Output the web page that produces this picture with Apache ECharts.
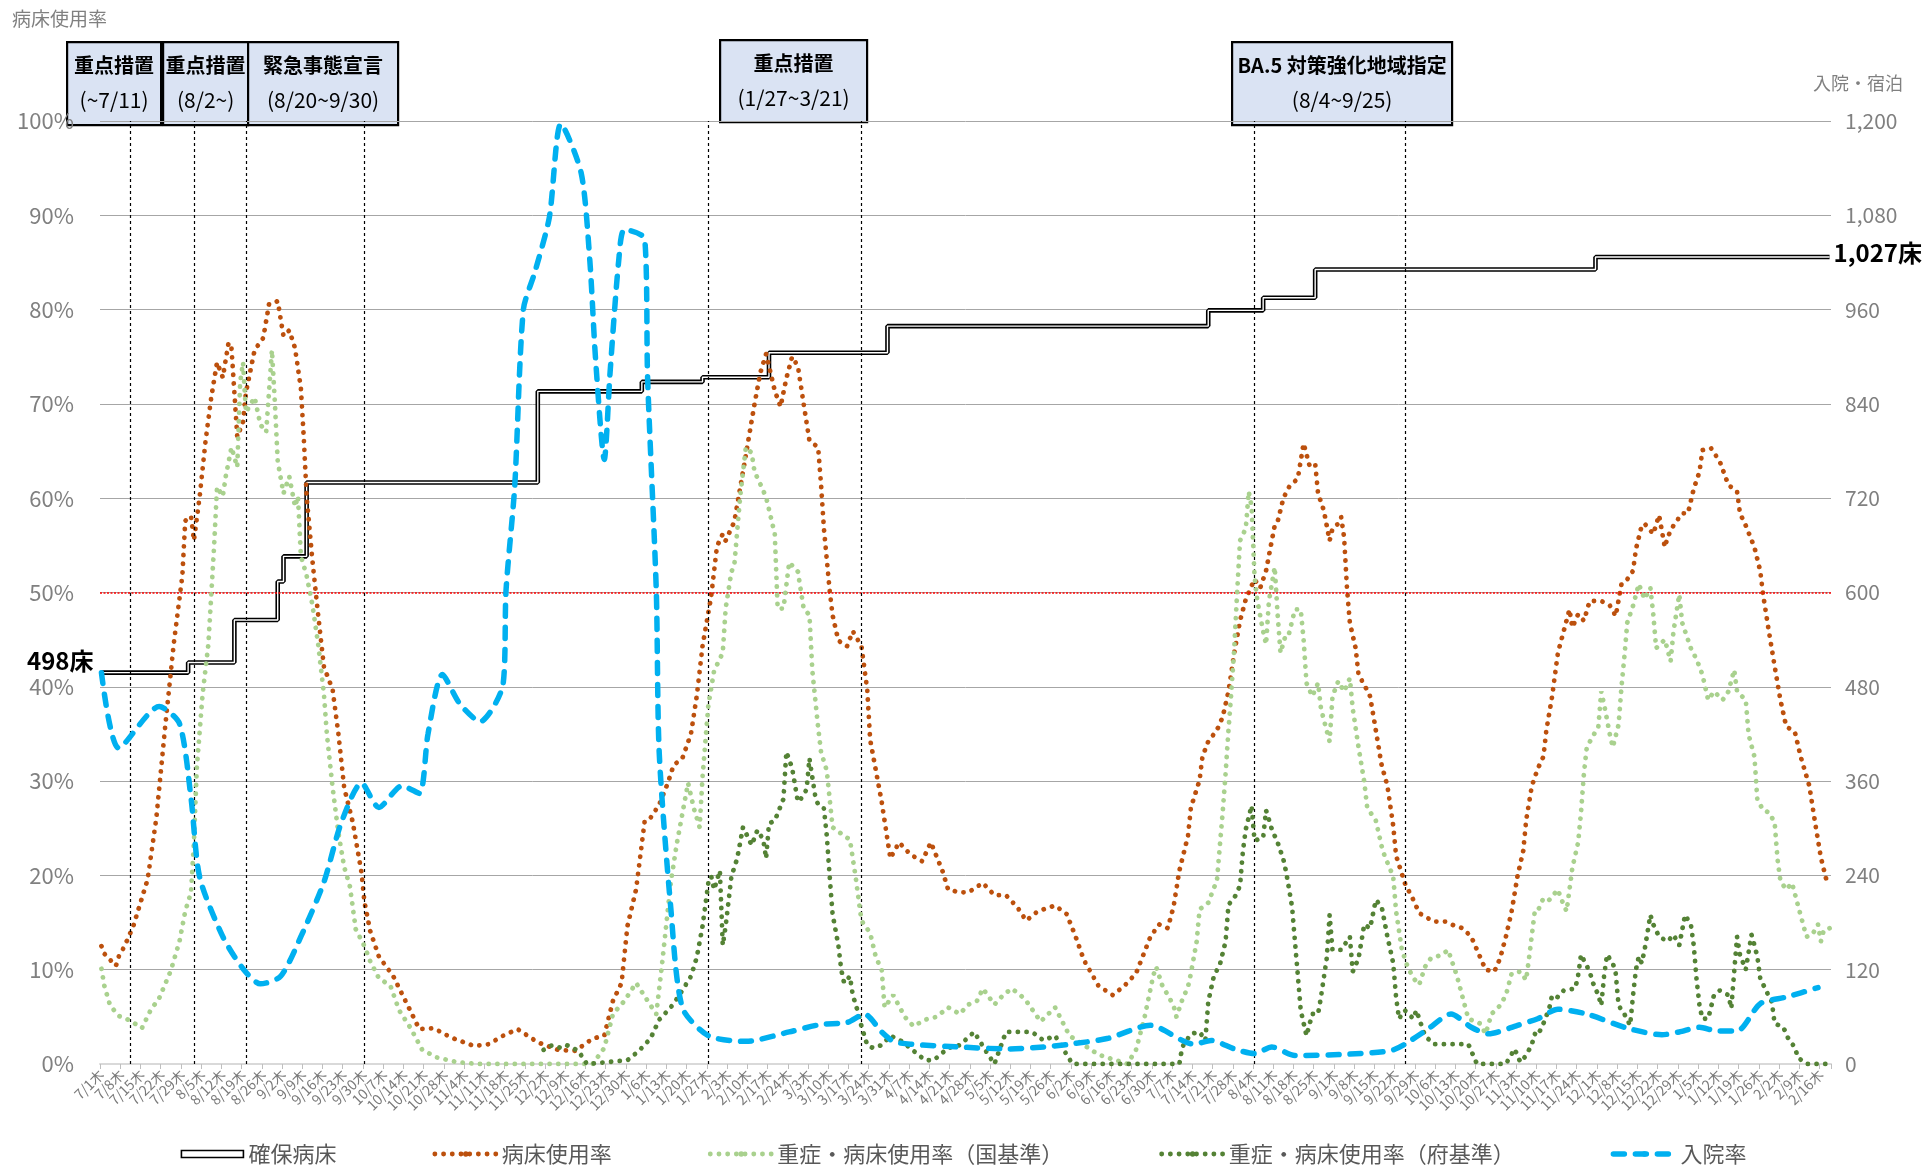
<!DOCTYPE html>
<html>
<head>
<meta charset="utf-8">
<script src="https://cdn.jsdelivr.net/npm/echarts/dist/echarts.min.js"></script>
<style>
  html, body { margin: 0; padding: 0; background: #fff; }
  #chart { width: 1927px; height: 1168px; }
</style>
</head>
<body>
<div id="chart"></div>
<script>
// ---- Daily category axis: 2021-07-01 (木) .. 2023-02-19 ----
const START_DATE = '2021-07-01';
const DAY_COUNT = 599;
const WEEKDAYS = '日月火水木金土';
const DAY_MS = 86400000;
const startMs = Date.parse(START_DATE + 'T00:00:00Z');
const categories = [];
for (let i = 0; i < DAY_COUNT; i++) {
  const d = new Date(startMs + i * DAY_MS);
  categories.push((d.getUTCMonth() + 1) + '/' + d.getUTCDate() + WEEKDAYS[d.getUTCDay()]);
}
const dayIndex = (iso) => Math.round((Date.parse(iso + 'T00:00:00Z') - startMs) / DAY_MS);

// ---- Axis ticks ----
const rateTicks = { min: 0, max: 100, interval: 10 };      // 病床使用率 (%)
const bedTicks = { min: 0, max: 1200, interval: 120 };     // 入院・宿泊 (床)

// ---- Series: [day index, value] ----
// 確保病床 (床, right axis)
const securedBeds = [[0,498],[30,511],[46,565],[61,614],[63,646],[71,740],[151,856],[187,868],[208,874],
  [231,905],[272,939],[383,959],[402,975],[420,1011],[517,1027],[598,1027]];

// 病床使用率 (%)
const bedUsage = [[0,12.5],[1,11.7],[5,10.4],[6,11.4],[8,12.5],[11,14.6],[16,19.6],[19,26.1],[22,35.6],[25,44.5],
  [28,51.8],[29,57.6],[31,58.1],[32,55.5],[34,60.2],[36,66],[38,70.7],[40,74.4],[42,72.8],[44,76.5],[45,75.9],
  [47,66.5],[49,68.1],[50,71.2],[53,75.7],[56,77],[58,80.6],[61,80.9],[63,77.2],[65,77.8],[67,75.9],[69,71.7],
  [70,66.5],[71,60.2],[73,53.4],[75,47.6],[77,42.1],[80,39.7],[82,35],[84,29.3],[87,25.6],[90,20.3],[91,17.2],
  [93,14.1],[96,11.4],[101,9.3],[106,6.2],[110,3.7],[115,3.8],[121,2.8],[129,1.9],[134,2.1],[139,3],[144,3.7],
  [151,2.3],[158,1.5],[164,1.4],[170,2.7],[174,3],[177,6.7],[180,8.6],[182,14.6],[185,18.5],[188,25.8],[190,26.1],
  [193,27.5],[196,29.8],[198,31.7],[201,32.4],[204,35],[206,39],[208,44.3],[211,49.6],[213,54.9],[215,56.2],
  [216,55.5],[219,57.5],[222,62.8],[224,66.4],[226,70],[228,73.3],[230,75.3],[233,71.4],[235,69.7],[237,72.7],
  [239,75],[241,74],[243,70],[245,66.1],[248,65.4],[249,61.5],[250,56.8],[252,50.2],[253,47.6],[255,44.9],
  [258,44.3],[260,45.9],[263,44.3],[265,39.7],[266,34.4],[268,31.1],[270,27.8],[272,23.8],[273,21.8],[276,23.5],
  [280,22.2],[284,21.5],[287,23.5],[291,20.5],[293,18.5],[297,18.2],[300,18.2],[305,19.2],[309,17.9],[313,17.9],
  [317,16.6],[320,15.2],[324,16.2],[330,16.8],[334,15.9],[337,13.6],[340,11],[345,8.3],[350,7.3],[354,8.3],
  [358,9.6],[363,13.5],[366,14.8],[369,14.4],[371,16.7],[373,20.5],[376,24.2],[377,27.2],[380,30.1],[381,32.6],
  [383,34.2],[386,35.4],[388,36.8],[390,39.5],[392,43.6],[394,47],[396,49.3],[399,51.4],[401,50.5],[403,52.3],
  [405,55.5],[406,57.1],[407,57.5],[409,60],[411,61.2],[414,62.1],[416,65.8],[418,63.5],[420,63.7],[421,60.5],
  [423,58.7],[425,55.5],[426,56.8],[428,57.3],[429,58],[430,55.9],[431,50.5],[432,46.8],[434,44.1],[435,41.3],
  [437,40.2],[439,39],[440,37.2],[443,31.7],[445,29.5],[447,25.3],[448,22.1],[451,19.2],[454,17.4],[456,16],
  [461,15.1],[465,15.1],[467,14.8],[471,14.4],[474,13.5],[477,11.4],[479,10],[482,9.8],[484,11.2],[486,13.5],
  [488,16.2],[490,19.9],[492,22.6],[493,25.8],[495,29.5],[497,31.3],[499,32.6],[500,35.4],[502,39],[504,43.6],
  [506,45.9],[508,48.2],[509,46.3],[511,47.7],[513,47],[515,49.1],[519,49.1],[522,48.6],[524,47.5],[526,50.9],
  [528,51.4],[530,52.3],[531,54.6],[533,57.1],[534,57.3],[537,56.2],[539,58.2],[541,54.8],[542,55.9],[544,57.1],
  [547,58.4],[549,58.4],[551,61],[553,62.8],[554,65.1],[557,65.3],[560,63.9],[563,61.4],[566,60.7],[567,58.4],
  [569,57.1],[572,54.8],[574,52.3],[575,49.8],[577,45.9],[579,42.2],[581,38.6],[583,35.8],[586,35.2],[588,32.6],
  [591,29.5],[593,25.6],[595,21.9],[597,19.4]];

// 重症・病床使用率（国基準） (%)
const severeNational = [[0,10.1],[1,8.3],[3,6.2],[6,5.1],[10,4.6],[14,3.8],[17,5.7],[20,7],[24,9.9],[27,13],
  [29,16.2],[31,18.2],[32,23.5],[33,31.4],[35,39.2],[37,44.5],[39,55],[40,61.2],[42,60.2],[43,62.3],[45,65.4],
  [47,63.3],[48,72.3],[49,74.4],[50,69.1],[53,70.7],[55,67.8],[57,67],[59,75.7],[60,70.2],[61,63.9],[63,60.5],
  [65,62.3],[67,59.1],[68,60.2],[69,53.9],[71,51.8],[73,48.7],[75,44.5],[77,39.2],[78,35],[80,29.3],[82,24.5],
  [84,20.9],[86,18.8],[88,14.3],[91,12.5],[93,10.9],[96,9.1],[100,8.3],[103,5.7],[107,3.8],[111,1.5],[116,0.7],
  [123,0.2],[130,0],[170,0],[174,1.7],[177,5.3],[181,6.7],[185,8.6],[189,6.7],[192,5.3],[194,10.6],[197,19.2],
  [199,23.2],[201,26.5],[203,29.8],[205,27.1],[207,25.1],[208,30.4],[210,38],[212,41.7],[215,43.6],[216,48.3],
  [218,52.2],[219,52.9],[221,60.1],[223,65.4],[225,64.8],[226,62.8],[228,61.5],[230,60.1],[231,58.8],[233,56.2],
  [234,48.3],[236,48.3],[238,53.2],[241,52.2],[243,48.3],[245,47.6],[246,41.7],[248,35.7],[249,33.1],[251,31.1],
  [253,25.1],[257,24.2],[259,23.8],[261,19.8],[263,15.2],[266,13.9],[268,11.3],[270,10],[271,6],[274,7.3],
  [278,5],[281,4],[285,4.7],[289,5],[293,6],[297,5.3],[300,6.3],[303,6.7],[305,8],[309,6.3],[312,7.3],[315,8],
  [318,7.3],[320,6.7],[325,4.5],[330,6],[335,3],[340,2],[345,1],[350,0.5],[355,0],[358,1.5],[361,5],[364,9.4],
  [365,10.3],[367,8.4],[369,7.3],[371,6.2],[372,5],[374,6.8],[376,8.2],[377,9.6],[379,13],[380,16.4],[383,17.1],
  [385,18.7],[386,19.4],[387,23.1],[388,26.7],[389,30.8],[390,35.4],[391,39.5],[392,44.1],[393,50],[394,55.5],
  [396,56.8],[397,60.7],[398,59.1],[399,51.8],[400,49.1],[402,45.9],[403,44.5],[404,49.1],[406,52.7],[407,47.7],
  [408,43.6],[410,45.7],[411,45.7],[413,48.2],[415,48.2],[416,45],[417,40.4],[419,39],[421,40.4],[422,37.7],
  [423,36.5],[425,34.2],[426,39],[428,40.6],[430,39.5],[432,40.9],[433,37.7],[435,33.6],[437,29.9],[438,27.2],
  [441,25.8],[443,23.1],[444,22.1],[447,19.9],[448,16.2],[450,12.1],[452,10.3],[454,9.1],[456,8.4],[458,10.3],
  [460,11.2],[464,11.6],[466,12.1],[469,9.4],[471,7.1],[473,4.8],[477,4.3],[479,3.2],[481,5.3],[484,6.2],
  [486,7.3],[488,9.6],[491,9.8],[493,8.9],[494,11.2],[496,16.2],[497,16.2],[499,17.6],[501,17.4],[504,18.5],
  [505,17.6],[507,16.2],[508,18.5],[509,20.8],[511,23.5],[512,26.7],[513,30.8],[514,33.6],[516,34.7],[518,35.8],
  [519,39.5],[520,38.1],[522,34.9],[523,33.6],[525,36],[526,40],[527,43.2],[528,46.8],[530,48.6],[532,50.9],
  [534,49.3],[536,50.5],[537,47.7],[538,44.1],[541,45],[543,42.7],[544,45.9],[546,49.8],[547,46.8],[550,44.1],
  [552,42.9],[554,41.3],[556,38.6],[558,39.5],[561,38.6],[563,39.5],[565,41.8],[566,39.5],[569,38.6],[570,34.9],
  [572,32.6],[573,28.1],[575,26.9],[577,26.7],[579,25.6],[580,21.7],[581,19.4],[583,18.5],[585,19.2],[587,16.9],
  [590,13.5],[592,13.7],[594,14.8],[595,13],[596,14.2],[598,14.4]];

// 重症・病床使用率（府基準） (%)
const severePrefecture = [[153,1.5],[156,2],[159,1.7],[161,2],[165,1.4],[168,0],[182,0.4],[186,1.4],[190,2.7],
  [193,4.7],[197,6],[200,7.3],[204,9.3],[206,11.3],[208,14.6],[210,19.2],[211,19.9],[212,18.5],[214,20.5],
  [215,12.6],[216,14.6],[218,19.9],[220,21.8],[222,25.1],[223,24.5],[225,23.2],[227,24.8],[229,23.8],[230,21.8],
  [231,25.5],[233,25.8],[236,28.1],[237,33.1],[239,31.4],[241,27.8],[242,28.1],[244,29.1],[245,32.4],[247,28.4],
  [248,27.5],[250,27.1],[251,24.2],[252,19.9],[253,15.9],[255,12.6],[256,10],[257,8.6],[259,9.3],[260,7.3],
  [262,5.3],[263,4],[265,2],[267,1.7],[270,2],[273,3],[277,2.4],[281,1.4],[285,0.4],[288,0.4],[293,1.7],[297,2],
  [302,3.4],[306,1.4],[309,0],[313,3.4],[318,3.4],[322,3.4],[326,2.5],[330,3],[333,1.5],[336,0],[373,0],
  [374,1.8],[377,3.2],[380,3.4],[382,2.5],[383,6.6],[385,9.4],[387,10.5],[389,13],[390,16.9],[392,17.6],
  [394,18.9],[395,22.6],[396,24.9],[398,27.4],[399,23.7],[402,24],[403,26.9],[405,24.9],[407,23.5],[409,21.7],
  [410,20.3],[412,16.7],[413,13],[414,9.4],[415,5.7],[417,3],[419,5.3],[421,5.3],[422,7.1],[424,11.2],[425,15.8],
  [426,12.1],[429,12.1],[432,13.5],[433,9.8],[435,11.2],[437,14.8],[439,14.4],[441,17.4],[443,16.7],[445,13.5],
  [447,10.7],[448,7.1],[449,4.8],[451,5.7],[454,4.8],[455,5.7],[458,3],[461,2.1],[466,2.1],[473,2.1],[476,0],
  [486,0],[489,1.6],[491,0.2],[493,0.9],[495,2.1],[496,3.2],[497,3],[499,4.3],[501,5.9],[502,7.3],[504,7.1],
  [506,7.8],[510,8],[511,9.4],[512,11.6],[515,9.8],[516,8.7],[518,7.3],[519,6.2],[520,9.4],[521,11.6],[523,10.7],
  [524,9.6],[525,6.2],[527,5.3],[529,4.1],[530,7.3],[531,10],[532,11.4],[533,10.7],[534,12.1],[536,15.8],
  [537,14.8],[539,13.5],[542,13],[544,13.7],[546,12.6],[548,15.8],[550,14.8],[551,12.6],[552,8.9],[553,6.2],
  [554,4.8],[556,4.8],[558,7.3],[560,7.8],[563,7.3],[564,5.9],[565,9.8],[566,13.5],[567,11.6],[569,10],
  [571,13.7],[572,12.6],[573,11.4],[574,9.1],[576,7.8],[578,6.6],[579,4.3],[582,3.9],[584,2.5],[586,1.8],
  [587,0.7],[590,0],[598,0]];

// 入院率 (%)
const admissionRate = [[0,41.5],[6,33.5],[20,37.9],[27,36.1],[31,28.2],[34,19.8],[42,13.5],[49,10.1],[55,8.5],
  [62,9.3],[69,13.5],[77,19.3],[83,25.6],[90,29.8],[96,27.2],[104,29.5],[110,28.7],[113,35],[118,41.3],
  [124,38.2],[131,36.3],[139,40.3],[140,50.2],[143,61.2],[146,80],[150,84],[155,89.8],[159,99.7],[166,94.5],
  [169,85.2],[171,74.7],[174,64.1],[176,73.3],[179,85.2],[181,88.5],[188,87.5],[189,72.7],[192,50.2],[193,33.1],
  [197,16.6],[201,6],[210,3],[223,2.4],[238,3.4],[249,4.2],[258,4.4],[264,5.3],[270,3.4],[274,2.4],[280,2.1],
  [297,1.8],[314,1.6],[326,1.8],[335,2.1],[348,2.7],[363,4.1],[378,2.1],[384,2.5],[392,1.6],[399,1.1],[405,1.8],
  [413,0.9],[432,1.05],[446,1.4],[451,2.1],[459,3.7],[467,5.3],[474,3.9],[480,3.2],[490,4.1],[497,4.8],[504,5.8],
  [514,5.3],[528,3.8],[540,3.1],[546,3.4],[553,3.9],[559,3.5],[566,3.5],[574,6.4],[583,7.1],[594,8.1]];

// ---- Measures (periods) and their boundary dates ----
const measureDates = ['2021-07-11', '2021-08-02', '2021-08-20', '2021-09-30',
                      '2022-01-27', '2022-03-21', '2022-08-04', '2022-09-25'];
const measureBoxes = [
  { title: '重点措置', period: '(~7/11)' },
  { title: '重点措置', period: '(8/2~)' },
  { title: '緊急事態宣言', period: '(8/20~9/30)' },
  { title: '重点措置', period: '(1/27~3/21)' },
  { title: 'BA.5 対策強化地域指定', period: '(8/4~9/25)' }
];
const THRESHOLD = 50;

// ---- Layout & style ----
const FONT = "'Noto Sans CJK JP', 'Noto Sans', sans-serif";
const GRID = { left: 100, right: 96, top: 121, bottom: 104 };
const boxFrames = [
  { x: 66, y: 41, w: 94, h: 83 },
  { x: 162, y: 41, w: 85, h: 83 },
  { x: 247, y: 41, w: 150, h: 83 },
  { x: 719, y: 39, w: 147, h: 82 },
  { x: 1231, y: 41, w: 220, h: 83 }
];
const C_BROWN = '#bc500d', C_LGREEN = '#a9d18e', C_DGREEN = '#548235', C_BLUE = '#00b0f0';
const dots = (color) => ({ color, width: 4.8, type: [0.1, 8.6], cap: 'round' });

const boxGraphics = [];
measureBoxes.forEach((b, i) => {
  const f = boxFrames[i];
  boxGraphics.push({
    type: 'group', left: f.x, top: f.y, z: 100,
    children: [
      { type: 'rect', shape: { x: 0, y: 0, width: f.w, height: f.h },
        style: { fill: '#dae3f3', stroke: '#000', lineWidth: 2.2 } },
      { type: 'text', x: f.w / 2, y: 23,
        style: { text: b.title, font: 'bold 20px ' + FONT, fill: '#000', align: 'center', verticalAlign: 'middle' } },
      { type: 'text', x: f.w / 2, y: 58,
        style: { text: b.period, font: '21px ' + FONT, fill: '#000', align: 'center', verticalAlign: 'middle' } }
    ]
  });
});

const chart = echarts.init(document.getElementById('chart'));
const fmtNum = (v) => Number(v).toLocaleString('en-US');

chart.setOption({
  animation: false,
  textStyle: { fontFamily: FONT },
  grid: GRID,
  xAxis: {
    type: 'category',
    data: categories,
    boundaryGap: true,
    axisLine: { lineStyle: { color: '#d9d9d9', width: 2 } },
    axisTick: { show: true, interval: 6, length: 5, lineStyle: { color: '#bfbfbf' } },
    axisLabel: { interval: 6, rotate: 45, fontSize: 14, color: '#7a7a7a', margin: 8 },
    splitLine: { show: false }
  },
  yAxis: [
    {
      type: 'value', ...rateTicks,
      axisLine: { show: false }, axisTick: { show: false },
      axisLabel: { formatter: '{value}%', fontSize: 22, color: '#808080', margin: 26 },
      splitLine: { lineStyle: { color: '#a6a6a6', width: 1 } }
    },
    {
      type: 'value', ...bedTicks, position: 'right',
      axisLine: { show: false }, axisTick: { show: false },
      axisLabel: { formatter: (v) => fmtNum(v), fontSize: 21, color: '#808080', margin: 14, align: 'left' },
      splitLine: { show: false }
    }
  ],
  legend: {
    bottom: -2,
    left: 'center',
    itemWidth: 62,
    itemHeight: 7,
    itemGap: 96,
    textStyle: { fontSize: 22, color: '#595959' },
    lineStyle: { width: 'inherit' },
    data: [
      { name: '確保病床', icon: 'rect', itemStyle: { color: '#fff', borderColor: '#000', borderWidth: 1.6 } },
      '病床使用率', '重症・病床使用率（国基準）', '重症・病床使用率（府基準）', '入院率'
    ]
  },
  graphic: [
    { type: 'text', left: 12, top: 9, style: { text: '病床使用率', font: '19px ' + FONT, fill: '#808080' } },
    { type: 'text', left: 1813, top: 74, style: { text: '入院・宿泊', font: '18px ' + FONT, fill: '#808080' } },
    ...boxGraphics
  ],
  series: [
    {
      name: '確保病床', type: 'line', yAxisIndex: 1, step: 'end', data: securedBeds,
      symbol: 'none', z: 2,
      lineStyle: { color: '#000', width: 4.6 },
      endLabel: { show: true, formatter: (p) => fmtNum(p.value[1]) + '床',
        color: '#000', fontSize: 24, fontWeight: 'bold', distance: 4, offset: [0, -4] },
      markPoint: {
        symbol: 'circle', symbolSize: 0, silent: true,
        data: [{ coord: securedBeds[0], value: securedBeds[0][1] }],
        label: { show: true, position: 'left', distance: 8, offset: [0, -12],
          formatter: (p) => fmtNum(p.value) + '床', color: '#000', fontSize: 24, fontWeight: 'bold' }
      }
    },
    {
      name: '確保病床（内線）', type: 'line', yAxisIndex: 1, step: 'end', data: securedBeds,
      symbol: 'none', z: 3, silent: true,
      lineStyle: { color: '#fff', width: 1.4 }
    },
    {
      name: '病床使用率', type: 'line', data: bedUsage, symbol: 'none', z: 4,
      lineStyle: dots(C_BROWN), itemStyle: { color: C_BROWN },
      markLine: {
        silent: true, symbol: 'none', label: { show: false },
        data: [
          { yAxis: THRESHOLD, lineStyle: { color: '#ff0000', type: [2, 1.5], width: 1.5 } },
          ...measureDates.map((d) => ({ xAxis: dayIndex(d), lineStyle: { color: '#000', type: [3, 3], width: 1.2 } }))
        ]
      }
    },
    {
      name: '重症・病床使用率（国基準）', type: 'line', data: severeNational, symbol: 'none', z: 5,
      lineStyle: dots(C_LGREEN), itemStyle: { color: C_LGREEN }
    },
    {
      name: '重症・病床使用率（府基準）', type: 'line', data: severePrefecture, symbol: 'none', z: 6,
      lineStyle: dots(C_DGREEN), itemStyle: { color: C_DGREEN }
    },
    {
      name: '入院率', type: 'line', data: admissionRate, symbol: 'none', z: 7, smooth: 0.25,
      lineStyle: { color: C_BLUE, width: 5.5, type: [11, 11], cap: 'round' }, itemStyle: { color: C_BLUE }
    }
  ]
});
</script>
</body>
</html>
